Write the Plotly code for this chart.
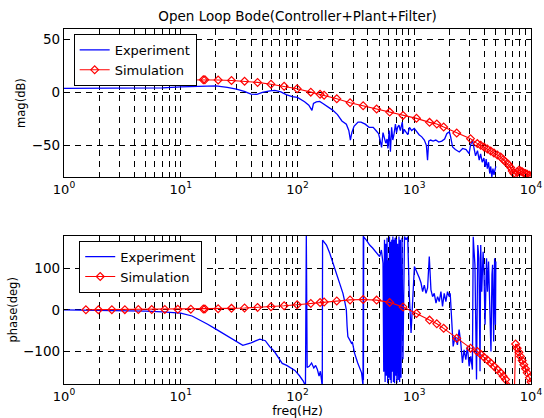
import plotly.graph_objects as go

# ---------------- data ----------------
sim_f = [1.54, 1.97, 2.57, 3.32, 4.33, 5.64, 7.3, 9.44, 12.2, 15.6, 16.1, 20.9, 27.2, 35.2, 45.5,
         59.3, 76.8, 99.3, 130, 156, 169, 217, 282, 365, 476, 616, 802, 1045, 1352, 1560, 1786,
         2311, 3033, 3470, 3710, 3960, 4230, 4520, 4820, 5150, 5500, 5780, 6060, 6390, 6690,
         6900, 7130, 7380, 7620, 7880, 8140, 8400, 8680, 8980, 9270, 9700, 10000]
sim_mag = [12.3, 12.3, 12.3, 12.3, 12.3, 12.3, 12.2, 12.2, 12.2, 12.1, 12.1, 11.8, 11.3, 10.6, 9.5,
           7.8, 5.8, 3.5, 0.3, -1.8, -2.6, -6, -9.7, -12.5, -15.7, -18.6, -21.7, -24.5, -28.3, -29.9, -32.7,
           -38.4, -43.7, -48.4, -50, -51.6, -53.5, -55.4, -57.2, -59.1, -61, -63.5, -65.7, -67.9, -71,
           -74.2, -76.7, -77.3, -75.1, -73.6, -74.2, -75.1, -76.1, -76.7, -77.3, -78.3, -79.2]
sim_phase = [0, 0.2, 0.3, 0.4, 0.6, 0.8, 1, 1.3, 1.6, 2, 2.1, 2.7, 3.5, 4.5, 5.8,
             7.5, 9.7, 12.3, 15.5, 17.8, 18.8, 21.5, 24, 25, 23.5, 18, 7, -9, -25, -34, -45,
             -69, -93, -101, -108, -115, -122, -129, -137, -145, -153, -161, -169, -186, -205,
             -225, -250, -83, -93, -103, -113, -123, -133, -143, -153, -165, -175]

exp_mag_f = [1, 2, 4, 7, 10, 14, 20, 25, 30, 35, 40, 45, 50, 58, 64, 72, 80, 90, 100, 115,
             125, 133, 137, 145, 155, 165, 180, 200, 220, 240, 262, 275, 284, 292, 305, 330, 350, 380, 410, 445,
             470, 495, 510, 525, 540, 555, 570, 585, 595, 610, 625, 640, 655, 670, 690, 705, 720, 740, 760, 790,
             805, 820, 850, 880, 910, 950, 1000, 1050, 1100, 1160, 1220, 1270, 1300, 1330, 1380, 1450, 1530, 1620, 1720, 1820,
             1900, 1950, 2000, 2050, 2130, 2250, 2430, 2600, 2780, 2950, 3030, 3150, 3240, 3350, 3480, 3600, 3700, 3820, 3950, 4050,
             4130, 4230, 4330, 4430, 4520, 4620, 4720, 4820, 4900, 5000]
exp_mag = [3.8, 3.8, 3.9, 4.3, 5.2, 6, 6.2, 4.8, 3.2, 1, -1.5, -1.9, 0, 1.5, 1.9, 0.6, -2, -4, -4.7, -8.8,
           -12, -17, -10.5, -9, -8.5, -10.5, -13, -16.7, -21, -27, -30, -36, -45, -38, -32, -28, -28, -30, -33, -33,
           -36, -39, -45, -52, -38, -42, -48, -44, -53, -36, -56, -33, -45, -40, -30, -38, -33, -31, -36, -28,
           -39, -35, -37, -40, -33, -36, -34, -37, -40, -42, -45, -50, -64, -46, -45, -46, -45, -47, -46, -44,
           -39, -38, -37.4, -42, -51.6, -54, -56.3, -53, -54, -57.8, -50, -45, -52, -60, -55, -64, -58, -66, -62, -70.4,
           -63, -72, -66, -76.7, -70, -80, -72, -78, -74, -70]

exp_ph_f = [1, 3, 5, 7, 10, 12.5, 14, 17, 20, 26, 34, 40, 47.6, 53, 58, 63, 70.8, 74, 80.8, 87,
            95, 104, 112, 117, 119, 121, 126, 132, 138, 143, 148, 153, 157, 161, 163, 164, 177, 189, 202, 215,
            230, 245, 254, 262, 266, 270, 280, 290, 295, 300, 308, 328, 354, 362, 364, 366, 367, 369, 389, 415,
            440, 470, 490, 505, 523, 540, 548, 556, 563, 570, 578, 585, 592, 600, 607, 614, 621, 628, 635, 642,
            649, 656, 663, 670, 678, 686, 694, 702, 710, 720, 730, 740, 750, 760, 770, 785, 800, 825, 851, 879,
            908, 939, 1003, 1070, 1106, 1143, 1180, 1219, 1261, 1301, 1345, 1390, 1436, 1483, 1535, 1585, 1637, 1692, 1747, 1806,
            1866, 1927, 1991, 2032, 2100, 2154, 2240, 2344, 2422, 2505, 2587, 2673, 2765, 2853, 2951, 3049, 3148, 3200, 3240, 3310,
            3415, 3500, 3580, 3660, 3710, 3785, 3890, 3960, 4040, 4160, 4240, 4330, 4450, 4540, 4630, 4690, 4790, 4880, 4960, 5000]
exp_ph = [0, -1, -3, -5, -8, -15, -22, -35, -47, -67, -86, -80, -71, -75, -90, -100, -121, -130, -135, -140,
          -147, -160, -173, -185, 182, -140, -137, -129, -141, -135, -145, -161, -149, -173, -188, 169, 157, 137, 113, 89,
          65, 40, 20, 0, -40, -65, -73, -81, -78, -90, -105, -129, -153, -178, -190, 179, -170, 177, 169, 157,
          150, 141, 135, 129, 145, 113, -150, 170, -175, 160, -160, 175, -178, 120, -165, 178, -170, 165, -178, 170,
          -150, 178, -175, 170, -178, 175, -160, 178, -178, 160, -170, 178, -175, 170, -165, 175, -120, 178, 170, 177,
          32, -56, 105, 89, 77, 65, 44, 60, 40, 53, 129, 48, 32, 40, 16, 32, 20, 44, 8, 40,
          20, 44, 32, 40, -40, -89, -65, -85, -48, -81, -129, -97, -121, -89, -137, -113, -145, 177, 150, 109,
          -169, 157, 125, -149, 157, 44, 141, 85, -36, 125, 44, 117, -20, -101, 85, 109, -77, 125, -36, 117]

# tick positions / labels
decade_vals = [1, 10, 100, 1000, 10000]
decade_text = ["10<sup>0</sup>", "10<sup>1</sup>", "10<sup>2</sup>", "10<sup>3</sup>", "10<sup>4</sup>"]
minor_vals = [d * m for d in [1, 10, 100, 1000] for m in range(2, 10)]

# ---------------- figure ----------------
FONT = "DejaVu Sans, sans-serif"
BLUE = "#0000ff"
RED = "#ff0000"

fig = go.Figure()
fig.add_trace(go.Scatter(x=exp_mag_f, y=exp_mag, mode="lines", name="Experiment",
                         line=dict(color=BLUE, width=1.3), xaxis="x", yaxis="y", legend="legend"))
fig.add_trace(go.Scatter(x=sim_f, y=sim_mag, mode="lines+markers", name="Simulation",
                         line=dict(color=RED, width=1.1),
                         marker=dict(symbol="diamond-open", size=6, color=RED, line=dict(width=1.2)),
                         xaxis="x", yaxis="y", legend="legend"))
fig.add_trace(go.Scatter(x=exp_ph_f, y=exp_ph, mode="lines", name="Experiment",
                         line=dict(color=BLUE, width=1.3), xaxis="x2", yaxis="y2", legend="legend2"))
fig.add_trace(go.Scatter(x=sim_f, y=sim_phase, mode="lines+markers", name="Simulation",
                         line=dict(color=RED, width=1.1),
                         marker=dict(symbol="diamond-open", size=6, color=RED, line=dict(width=1.2)),
                         xaxis="x2", yaxis="y2", legend="legend2"))

GRID = dict(showgrid=True, gridcolor="black", gridwidth=0.8, griddash="6px,5px")
xcommon = dict(type="log", range=[0, 4], tickmode="array", tickvals=decade_vals, ticktext=decade_text,
               ticks="inside", ticklen=4, tickcolor="black", showline=True, linecolor="black",
               linewidth=1.3, mirror="ticks", zeroline=False, automargin=False, ticklabelstandoff=0,
               minor=dict(tickmode="array", tickvals=minor_vals, ticks="inside", ticklen=3,
                          tickcolor="black", **GRID),
               tickfont=dict(family=FONT, size=13, color="black"), **GRID)
ycommon = dict(ticks="inside", ticklen=4, tickcolor="black", showline=True, linecolor="black",
               linewidth=1.3, mirror="ticks", zeroline=False, automargin=True,
               tickfont=dict(family=FONT, size=13.5, color="black"), **GRID)

fig.update_layout(
    width=544, height=418,
    margin=dict(l=63, r=12, t=29, b=34),
    paper_bgcolor="white", plot_bgcolor="white",
    font=dict(family=FONT, size=12, color="black"),
    title=dict(text="Open Loop Bode(Controller+Plant+Filter)", x=0.5469, xanchor="center",
               y=0.962, yanchor="middle", font=dict(family=FONT, size=13.5, color="black")),
    xaxis=dict(domain=[0, 1], anchor="y", **xcommon),
    yaxis=dict(domain=[0.583, 1], anchor="x", range=[-80, 60], tickvals=[-50, 0, 50],
               title=dict(text="mag(dB)", font=dict(family=FONT, size=11.5), standoff=3), **ycommon),
    xaxis2=dict(domain=[0, 1], anchor="y2",
                title=dict(text="freq(Hz)", font=dict(family=FONT, size=12.5)), **xcommon),
    yaxis2=dict(domain=[0, 0.418], anchor="x2", range=[-180, 180], tickvals=[-100, 0, 100],
                title=dict(text="phase(deg)", font=dict(family=FONT, size=11.5), standoff=3), **ycommon),
    legend=dict(x=0.0207, y=0.986, xanchor="left", yanchor="top", bgcolor="white",
                bordercolor="black", borderwidth=1, font=dict(family=FONT, size=13),
                tracegroupgap=0, itemwidth=30),
    legend2=dict(x=0.0326, y=0.4037, xanchor="left", yanchor="top", bgcolor="white",
                 bordercolor="black", borderwidth=1, font=dict(family=FONT, size=13),
                 tracegroupgap=0, itemwidth=30),
    showlegend=True,
)

fig.write_html("out.html")
